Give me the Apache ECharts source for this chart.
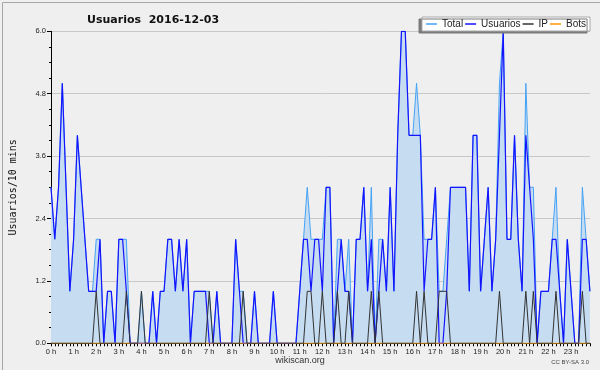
<!DOCTYPE html>
<html>
<head>
<meta charset="utf-8">
<script src="https://cdn.jsdelivr.net/npm/echarts@6/dist/echarts.min.js"></script>
<style>
html,body{margin:0;padding:0;background:#efefef;}
#chart{width:600px;height:370px;}
</style>
</head>
<body>
<div id="chart"></div>
<script>
// Hour tick labels
var hourLabels = ["0 h","1 h","2 h","3 h","4 h","5 h","6 h","7 h","8 h","9 h","10 h","11 h",
  "12 h","13 h","14 h","15 h","16 h","17 h","18 h","19 h","20 h","21 h","22 h","23 h"];
var stepsPerHour = 6; // 10-minute slots

// Usuarios per 10 minutes (144 slots)
var usuarios = [
  3,2,3,5,3,1,2,4,3,2,1,1,1,2,0,1,1,0,2,2,1,0,0,0,
  0,0,0,1,0,1,1,2,2,1,2,1,2,0,1,1,1,1,0,0,1,0,0,0,
  0,2,1,0,0,0,1,0,0,0,0,1,0,0,0,0,0,0,1,2,2,1,2,2,
  1,3,3,0,1,2,1,1,0,2,2,3,1,2,0,1,2,1,3,1,4,6,6,4,
  4,4,4,1,2,2,3,0,0,1,3,3,3,3,3,1,4,4,1,2,3,1,2,4,
  6,2,2,4,2,1,4,3,2,0,1,1,1,2,2,1,0,2,1,0,0,2,2,1
];
// IP (anonymous) per 10 minutes
var ip = [
  0,0,0,0,0,0,0,0,0,0,0,0,1,0,0,0,0,0,0,0,1,0,0,0,
  1,0,0,0,0,0,0,0,0,0,0,0,0,0,0,0,0,0,1,0,0,0,0,0,
  0,0,0,1,0,0,0,0,0,0,0,0,0,0,0,0,0,0,0,0,1,1,0,0,
  1,0,0,0,1,0,0,1,0,0,0,0,0,1,0,1,0,0,0,0,0,0,0,0,
  0,1,0,1,0,0,0,1,1,1,0,0,0,0,0,0,0,0,0,0,0,0,0,1,
  0,0,0,0,0,0,1,0,1,0,0,0,0,0,1,0,0,0,0,0,0,1,0,0
];
// Total per 10 minutes
var total = [
  3,2,3,5,3,1,2,4,3,2,1,1,2,2,0,1,1,0,2,2,2,0,0,0,
  1,0,0,1,0,1,1,2,2,1,2,1,2,0,1,1,1,1,1,0,1,0,0,0,
  0,2,1,1,0,0,1,0,0,0,0,1,0,0,0,0,0,0,1,2,3,2,2,2,
  2,3,3,0,2,2,1,2,0,2,2,3,1,3,0,2,2,1,3,1,4,6,6,4,
  4,5,4,2,2,2,3,1,1,2,3,3,3,3,3,1,4,4,1,2,3,1,2,5,
  6,2,2,4,2,1,5,3,3,0,1,1,1,2,3,1,0,2,1,0,0,3,2,1
];
// Bots per 10 minutes
var bots = [
  0,0,0,0,0,0,0,0,0,0,0,0,0,0,0,0,0,0,0,0,0,0,0,0,
  0,0,0,0,0,0,0,0,0,0,0,0,0,0,0,0,0,0,0,0,0,0,0,0,
  0,0,0,0,0,0,0,0,0,0,0,0,0,0,0,0,0,0,0,0,0,0,0,0,
  0,0,0,0,0,0,0,0,0,0,0,0,0,0,0,0,0,0,0,0,0,0,0,0,
  0,0,0,0,0,0,0,0,0,0,0,0,0,0,0,0,0,0,0,0,0,0,0,0,
  0,0,0,0,0,0,0,0,0,0,0,0,0,0,0,0,0,0,0,0,0,0,0,0
];

var categories = [];
for (var h = 0; h < hourLabels.length; h++) {
  for (var m = 0; m < stepsPerHour; m++) {
    categories.push(hourLabels[h] + (m ? ':' + (m * 10) : ''));
  }
}

var chart = echarts.init(document.getElementById('chart'), null, {renderer: 'canvas'});
var labelFont = 'Liberation Sans';
chart.setOption({
  backgroundColor: '#efefef',
  animation: false,
  title: {
    text: 'Usuarios  2016-12-03',
    left: 82, top: 10,
    textStyle: {fontFamily: 'DejaVu Sans', fontSize: 11, fontWeight: 'bold', color: '#111'}
  },
  legend: {
    data: ['Total', 'Usuarios', 'IP', 'Bots'],
    left: 422, top: 17,
    padding: [2, 4, 2, 4],
    itemWidth: 11, itemHeight: 1.5, itemGap: 2,
    icon: 'rect',
    backgroundColor: '#ffffff',
    borderColor: '#aaaaaa', borderWidth: 1,
    shadowColor: '#7a7a7a', shadowOffsetX: -3, shadowOffsetY: 2, shadowBlur: 0,
    textStyle: {fontFamily: labelFont, fontSize: 10, color: '#222'}
  },
  grid: {left: 46.5, right: 10.1, top: 31.3, bottom: 26.7},
  xAxis: {
    type: 'category',
    data: categories,
    boundaryGap: false,
    axisLine: {lineStyle: {color: '#000', width: 1}},
    axisTick: {interval: 0, length: 3, lineStyle: {color: '#000'}},
    axisLabel: {
      interval: stepsPerHour - 1, margin: 5,
      fontFamily: labelFont, fontSize: 7.5, color: '#222',
      formatter: function (v, idx) { return hourLabels[Math.floor(idx / stepsPerHour)]; }
    },
    splitLine: {show: false}
  },
  yAxis: {
    type: 'value',
    min: 0, max: 6, interval: 1.2,
    name: 'Usuarios/10 mins',
    nameLocation: 'middle', nameRotate: 90, nameGap: 33,
    nameTextStyle: {fontFamily: 'DejaVu Sans Mono', fontSize: 10, color: '#111'},
    axisLine: {show: true, lineStyle: {color: '#000', width: 1}},
    axisTick: {show: true, length: 4, lineStyle: {color: '#000'}},
    minorTick: {show: true, splitNumber: 4, length: 2, lineStyle: {color: '#000'}},
    axisLabel: {
      margin: 5, fontFamily: labelFont, fontSize: 7.5, color: '#222',
      formatter: function (v) { return v.toFixed(1); }
    },
    splitLine: {lineStyle: {color: '#c8c8c8', width: 1}}
  },
  series: [
    {
      name: 'Total', type: 'line', data: total, symbol: 'none', z: 2,
      lineStyle: {color: '#44a2f5', width: 1},
      itemStyle: {color: '#44a2f5'},
      areaStyle: {color: '#c6dcf0', opacity: 1}
    },
    {
      name: 'Usuarios', type: 'line', data: usuarios, symbol: 'none', z: 3,
      lineStyle: {color: '#1414ff', width: 1.2},
      itemStyle: {color: '#1414ff'}
    },
    {
      name: 'Bots', type: 'line', data: bots, symbol: 'none', z: 3,
      lineStyle: {color: '#ff9900', width: 1},
      itemStyle: {color: '#ff9900'}
    },
    {
      name: 'IP', type: 'line', data: ip, symbol: 'none', z: 4,
      lineStyle: {color: '#333333', width: 1},
      itemStyle: {color: '#333333'}
    }
  ],
  graphic: [
    {type: 'rect', left: 0, top: 0, z: 100, silent: true,
     shape: {x: 0.5, y: 0.5, width: 599, height: 369},
     style: {fill: null, stroke: '#a6a6a6', lineWidth: 1}},
    {type: 'text', x: 300, y: 361, z: 100,
     style: {text: 'wikiscan.org', fill: '#333', font: '9px "Liberation Sans"', textAlign: 'center', textVerticalAlign: 'middle'}},
    {type: 'text', x: 589, y: 362, z: 100,
     style: {text: 'CC BY-SA 3.0', fill: '#444', font: '6px "Liberation Sans"', textAlign: 'right', textVerticalAlign: 'middle'}}
  ]
});
</script>
</body>
</html>
